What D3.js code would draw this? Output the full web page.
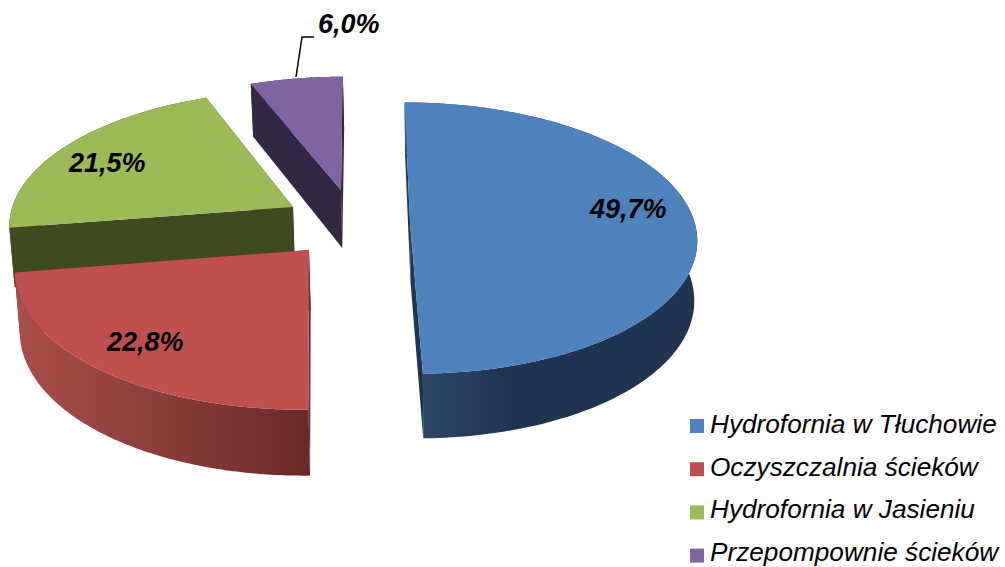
<!DOCTYPE html>
<html><head><meta charset="utf-8">
<script src="https://cdn.jsdelivr.net/npm/d3@7"></script>
<style>html,body{margin:0;padding:0;background:#fff;overflow:hidden}svg{display:block}text{font-family:"Liberation Sans",Arial,sans-serif;font-style:italic}</style>
</head><body><svg id="c" width="1005" height="567"></svg>
<script>
// data
const categories = ["Hydrofornia w Tłuchowie","Oczyszczalnia ścieków","Hydrofornia w Jasieniu","Przepompownie ścieków"];
const shares = [49.7,22.8,21.5,6.0];
const shareLabels = ["49,7%","22,8%","21,5%","6,0%"];
const topColors = ["#4f81bd","#c0504d","#9bbb59","#8064a2"];
const cutColors = ["#1d3552","#6b2b28","#3f4a22","#322843"];
const wallStops = [
  [[0,"#2f4b6d"],[0.36,"#1f3450"],[1,"#1f344f"]],
  [[0,"#aa4f4b"],[1,"#692a27"]],
  [[0,"#3f4a22"],[1,"#3f4a22"]],
  [[0,"#322843"],[1,"#322843"]]
];
// layout: exploded apex of each slice on screen, and label anchors
const apexes = [[410,222],[309,250],[293,207],[341,190]];
const labelAt = [[590,218],[107,351],[69,172],[318,33]];
const leader = [[296,77],[302,37],[314,37]];

// perspective camera
const x0=359,y0=240,R=289,Ry=138,p=0.12,xc=450,shrink=0.988;
const persp=Y=>1/(1-p*Y);
const project=(X,Y)=>[x0+X*R*persp(Y), y0+Y*Ry*persp(Y)];
const unproject=([xs,ys])=>{const dy=ys-y0,Y=dy/(Ry+p*dy);return [(xs-x0)/(R*persp(Y)),Y];};
const wallDepth=Y=>60+5.5*Y;
const lower=([x,y],Y)=>[xc+(x-xc)*shrink,y+wallDepth(Y)];

const svg=d3.select("#c"), defs=svg.append("defs");
const line=d3.line();
const arcs=d3.pie().sort(null).value(d=>d)(shares);

const geom=arcs.map((a,i)=>{
  const [ax,ay]=unproject(apexes[i]);
  const world=t=>[ax+Math.sin(t),ay-Math.cos(t)];
  const ts=d3.range(0,121).map(k=>a.startAngle+(a.endAngle-a.startAngle)*k/120);
  const rimW=ts.map(world);
  const rim=rimW.map(([X,Y])=>project(X,Y));
  const rimB=rimW.map(([X,Y],k)=>lower(rim[k],Y));
  const apex=project(ax,ay), apexB=lower(apex,ay);
  return {i,rim,rimB,apex,apexB};
});

// draw back-to-front
[3,2,1,0].forEach(i=>{
  const g=geom[i], n=g.rim.length-1, group=svg.append("g");
  const xs=g.rimB.map(d=>d[0]).concat(g.rim.map(d=>d[0]));
  const gid="wall"+i;
  const grad=defs.append("linearGradient").attr("id",gid).attr("gradientUnits","userSpaceOnUse")
    .attr("x1",d3.min(xs)).attr("x2",d3.max(xs)).attr("y1",0).attr("y2",0);
  wallStops[i].forEach(s=>grad.append("stop").attr("offset",s[0]).attr("stop-color",s[1]));
  [[g.rim[0],g.rimB[0]],[g.rim[n],g.rimB[n]]].forEach(([t,b])=>{
    group.append("path").attr("d",line([t,g.apex,g.apexB,b])+"Z").attr("fill",cutColors[i]);
  });
  group.append("path").attr("d",line(g.rim.concat(g.rimB.slice().reverse()))+"Z").attr("fill",`url(#${gid})`);
  group.append("path").attr("d",line([g.apex].concat(g.rim))+"Z").attr("fill",topColors[i]);
});

// leader
svg.append("path").attr("d",line(leader)).attr("fill","none").attr("stroke","#000").attr("stroke-width",1.5);

// labels
svg.selectAll("text.v").data(shareLabels).join("text").attr("class","v")
  .attr("x",(d,i)=>labelAt[i][0]).attr("y",(d,i)=>labelAt[i][1])
  .attr("font-size",27).attr("font-weight","bold").attr("fill","#000").text(d=>d);

// legend
const ly=d3.scalePoint().domain(categories).range([433,561]);
const lg=svg.append("g");
lg.selectAll("rect").data(categories).join("rect")
  .attr("x",690).attr("y",(d,i)=>433+i*43.2-14).attr("width",14).attr("height",14)
  .attr("fill",(d,i)=>topColors[i]);
lg.selectAll("text.l").data(categories).join("text").attr("class","l")
  .attr("x",710).attr("y",d=>ly(d)).attr("font-size",26.2).attr("fill","#000").text(d=>d);
</script></body></html>
